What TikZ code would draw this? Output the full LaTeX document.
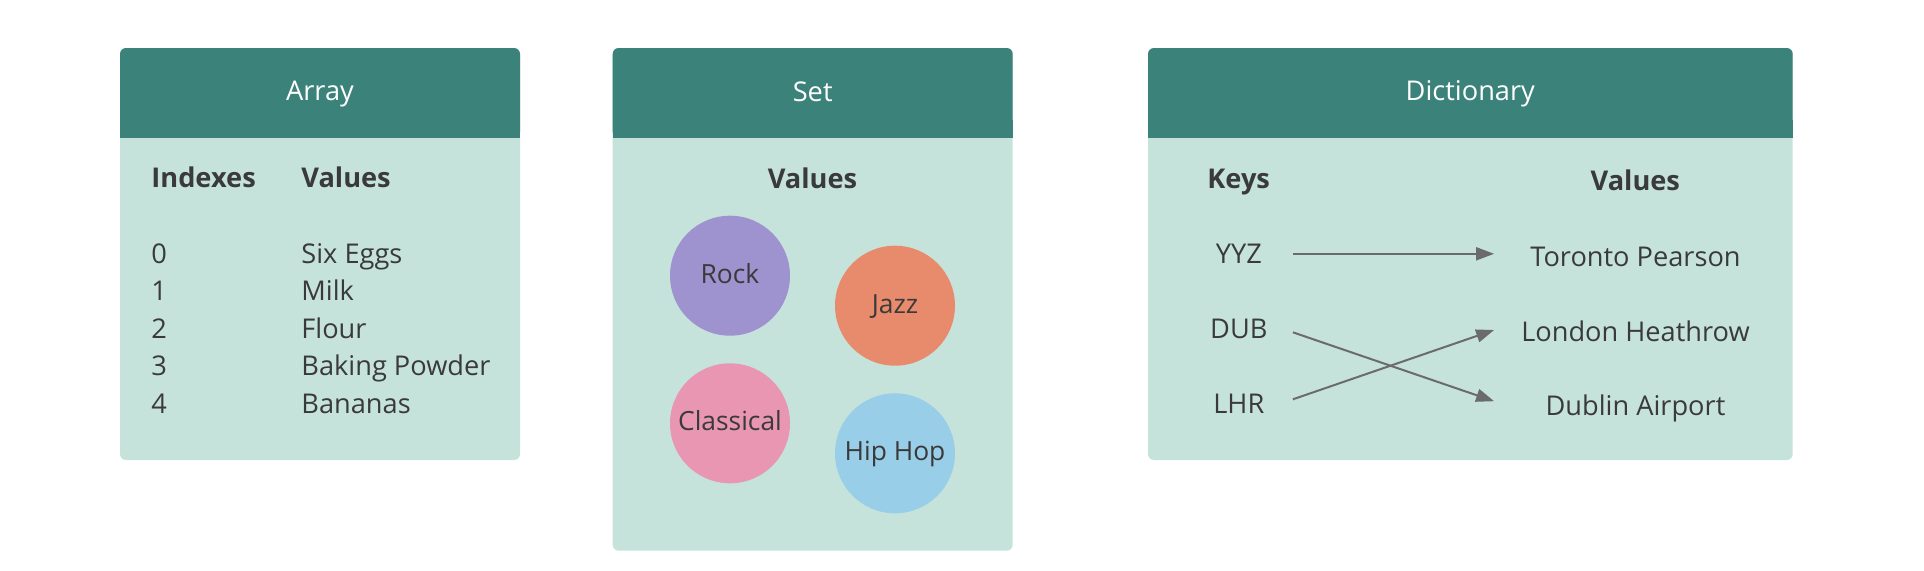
\documentclass[tikz,border=0pt]{standalone}
\usepackage{fontspec}
\setmainfont{Open Sans}
\usetikzlibrary{arrows.meta}
\definecolor{headcol}{HTML}{3B837A}
\definecolor{bodycol}{HTML}{C6E3DB}
\definecolor{inkcol}{HTML}{3A3A3A}
\definecolor{linkcol}{HTML}{6B6B6B}
\definecolor{rockcol}{HTML}{9F93CF}
\definecolor{jazzcol}{HTML}{E88B6C}
\definecolor{classcol}{HTML}{E896B2}
\definecolor{hiphopcol}{HTML}{98CEE8}
\tikzset{
 headtxt/.style={anchor=base,text=white,font=\fontsize{13.6}{16}\selectfont},
 boldtxt/.style={anchor=base,text=inkcol,font=\fontsize{13.6}{16}\selectfont\bfseries},
 celltxt/.style={anchor=base west,inner sep=0pt,text=inkcol,font=\fontsize{13.6}{16}\selectfont},
 keytxt/.style={text=inkcol,text height=9.5pt,text depth=0pt,font=\fontsize{13.6}{16}\selectfont},
 genre/.style={circle,inner sep=0pt,minimum size=60pt,text height=7.6pt,text depth=0pt,text=inkcol,font=\fontsize{13.2}{15}\selectfont},
 link/.style={draw=linkcol,line width=1pt,-{Triangle[length=9pt,width=6.5pt]}}
}
\begin{document}
\begin{tikzpicture}[x=0.5pt,y=-0.5pt]%
% pixel grid 1924 x 570, y downwards
\useasboundingbox[fill=white] (0,0) rectangle (1924,570);
\global\def\panel#1#2#3{%
 \fill[bodycol,rounded corners=3pt] (#1,48) rectangle (#2,#3);
 \fill[headcol,rounded corners=3pt] (#1,48) rectangle (#2,137.7);
 \fill[headcol] (#1,120) rectangle (#2,137.7);}
\panel{120}{520}{460}
\panel{612.7}{1012.7}{550.7}
\panel{1148}{1792.7}{460}
% Array
\node[headtxt] (arrhead) at (320,100.7) {Array};
\node[boldtxt,anchor=base west,inner sep=0pt] (arridx) at (151,187.3) {Indexes};
\node[boldtxt,anchor=base west,inner sep=0pt] (arrval) at (301,187.3) {Values};
\foreach \i/\v in {0/Six Eggs,1/Milk,2/Flour,3/Baking Powder,4/Bananas}{
 \node[celltxt] (idx\i) at (151,263.3+37.5*\i) {\i};
 \node[celltxt] (val\i) at (301,263.3+37.5*\i) {\v};
}
% Set
\node[headtxt] (sethead) at (812.7,101) {Set};
\node[boldtxt] (setval) at (812.5,188.3) {Values};
\node[genre,fill=rockcol] (rock) at (730,275.7) {Rock};
\node[genre,fill=jazzcol] (jazz) at (895,305.7) {Jazz};
\node[genre,fill=classcol] (classical) at (730,423.3) {Classical};
\node[genre,fill=hiphopcol] (hiphop) at (895,453.3) {Hip Hop};
% Dictionary
\node[headtxt] (dicthead) at (1470.3,100.7) {Dictionary};
\node[boldtxt] (dictkeys) at (1238.7,188) {Keys};
\node[boldtxt] (dictvals) at (1635.3,190) {Values};
\node[keytxt,minimum width=53.7pt] (yyz) at (1238.8,253.8) {YYZ};
\node[keytxt,minimum width=53.7pt] (dub) at (1238.8,328.8) {DUB};
\node[keytxt,minimum width=53.7pt] (lhr) at (1238.8,403.8) {LHR};
\node[keytxt,minimum width=141pt] (yyzval) at (1635.5,256.5) {Toronto Pearson};
\node[keytxt,minimum width=141pt] (lhrval) at (1635.5,331.5) {London Heathrow};
\node[keytxt,minimum width=141pt] (dubval) at (1635.5,406.2) {Dublin Airport};
\draw[link] (yyz.east) -- (yyz.east -| yyzval.west);
\draw[link] ([yshift=-1.75pt]dub.east) -- ([yshift=2.5pt]dubval.west);
\draw[link] ([yshift=2.25pt]lhr.east) -- ([yshift=0.75pt]lhrval.west);
\end{tikzpicture}
\end{document}
